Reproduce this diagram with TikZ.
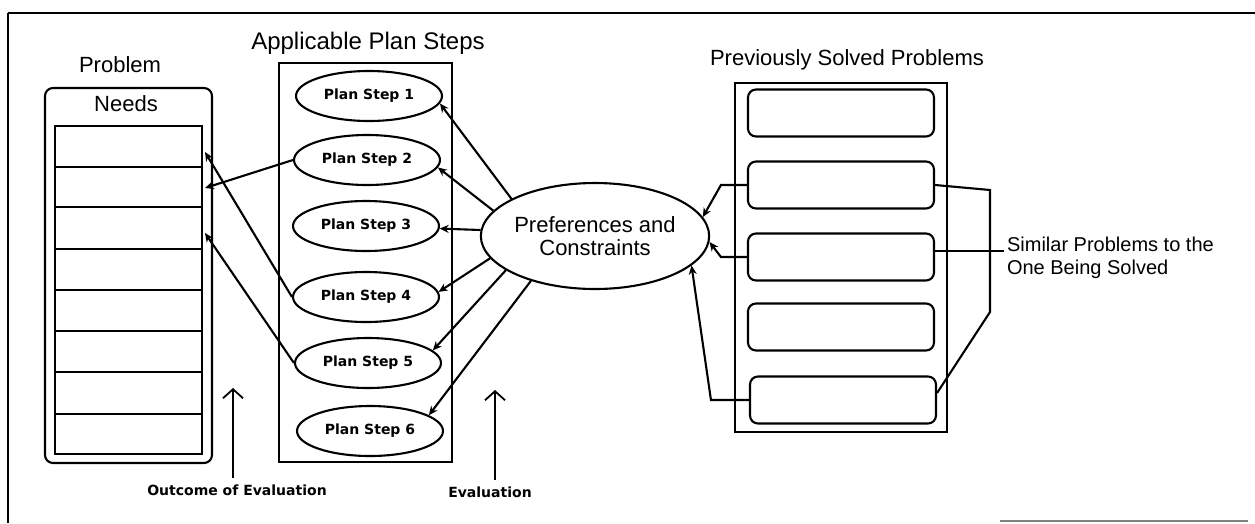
\documentclass[tikz,border=0pt]{standalone}
\usepackage{fontspec}
\setmainfont{Liberation Sans}
\newfontfamily\labelfont{DejaVu Sans}
\usetikzlibrary{shapes.geometric,arrows.meta}

\begin{document}
\begin{tikzpicture}[x=1pt,y=-1pt,line width=2.1pt,
  title/.style={font=\fontsize{22}{26}\selectfont,inner sep=0pt},
  smalllabel/.style={font=\labelfont\bfseries\fontsize{14}{16}\selectfont,inner sep=0pt},
  stepbox/.style={ellipse,draw,minimum width=146pt,minimum height=50pt,inner sep=0pt,
    font=\labelfont\bfseries\fontsize{14}{16}\selectfont},
  prefnode/.style={ellipse,draw,minimum width=185pt,minimum height=106pt,inner sep=0pt,
    align=center,font=\fontsize{22}{23}\selectfont},
  solvedbox/.style={rectangle,draw,rounded corners=8pt,minimum width=186pt,minimum height=47pt,inner sep=0pt},
  conn/.style={-{Stealth[length=9pt,width=8pt]}},
  evalarrow/.style={line width=1.8pt,-{Straight Barb[length=9pt,width=20pt]}}
]
\useasboundingbox (0,0) rectangle (1255,523);

% frame
\draw (8,13) -- (1255,13);
\draw (8,13) -- (8,523);
\draw[gray,line width=1.2pt] (1000,521) -- (1248,521);

% problem needs
\node[title] (probtitle) at (120,65) {Problem};
\draw[rounded corners=8pt] (45,88) rectangle (212,463);
\node[title] (needs) at (126,104) {Needs};
\draw (55,126) rectangle (202,454);
\foreach \yy in {167,207,249,290,331,372,414}
  \draw (55,\yy) -- (202,\yy);

% applicable plan steps
\node[title,font=\fontsize{24}{28}\selectfont] (steptitle) at (368,43) {Applicable Plan Steps};
\draw (279,63) rectangle (452,462);
\node[stepbox] (ps1) at (369,96) {Plan Step 1};
\node[stepbox] (ps2) at (367,160) {Plan Step 2};
\node[stepbox] (ps3) at (366,226) {Plan Step 3};
\node[stepbox] (ps4) at (366,297) {Plan Step 4};
\node[stepbox] (ps5) at (368,363) {Plan Step 5};
\node[stepbox] (ps6) at (370,431) {Plan Step 6};

% preferences and constraints
\node[prefnode] (pc) at (595,236) {Preferences and\\Constraints};

% previously solved problems
\node[title] (solvedtitle) at (847,60) {Previously Solved Problems};
\draw (735,83) rectangle (947,432);
\node[solvedbox] (pb1) at (841,113) {};
\node[solvedbox] (pb2) at (841,185) {};
\node[solvedbox] (pb3) at (841,257) {};
\node[solvedbox] (pb4) at (841,327) {};
\node[solvedbox] (pb5) at (843,400) {};

% similar problems bracket
\node[title,font=\fontsize{20}{23}\selectfont,align=left,anchor=west] (sim) at (1006,258)
  {Similar Problems to the\\One Being Solved};
\coordinate (br1) at (990,190);
\coordinate (br2) at (990,312);
\coordinate (simL) at (1004,251);
\draw (pb2.east) -- (br1) -- (br2) -- ([yshift=7pt]pb5.east);
\draw ([yshift=6pt]pb3.east) -- (simL);

% solved problems feed the preferences
\draw[conn] (pb2.west) -- ++(-26,0) -- (pc.10);
\draw[conn] (pb3.west) -- ++(-26,0) -- (pc.-3);
\draw[conn] (pb5.west) -- ++(-38,0) -- (pc.-17);

% preferences evaluate the plan steps
\draw[conn] (pc.156) -- (ps1.-6);
\draw[conn] (pc.166) -- (ps2.-6);
\draw[conn] (pc.177) -- (ps3.-2);
\draw[conn] (pc.192) -- (ps4.4);
\draw[conn] (pc.201) -- (ps5.11);
\draw[conn] (pc.215) -- (ps6.15);

% plan steps satisfy needs
\coordinate (nd1) at (205,152);
\coordinate (nd2) at (205,188);
\coordinate (nd3) at (205,233);
\draw[conn] (ps2.west) -- (nd2);
\draw[conn] (ps4.west) -- (nd1);
\draw[conn] (ps5.west) -- (nd3);

% evaluation markers
\node[smalllabel] (oelab) at (237,490) {Outcome of Evaluation};
\node[smalllabel] (evlab) at (490,492) {Evaluation};
\coordinate (oetop) at (233,388);
\coordinate (evtop) at (495,390);
\draw[evalarrow] ([yshift=6pt]oelab.north -| oetop) -- (oetop);
\draw[evalarrow] ([yshift=6pt]evlab.north -| evtop) -- (evtop);
\end{tikzpicture}
\end{document}
